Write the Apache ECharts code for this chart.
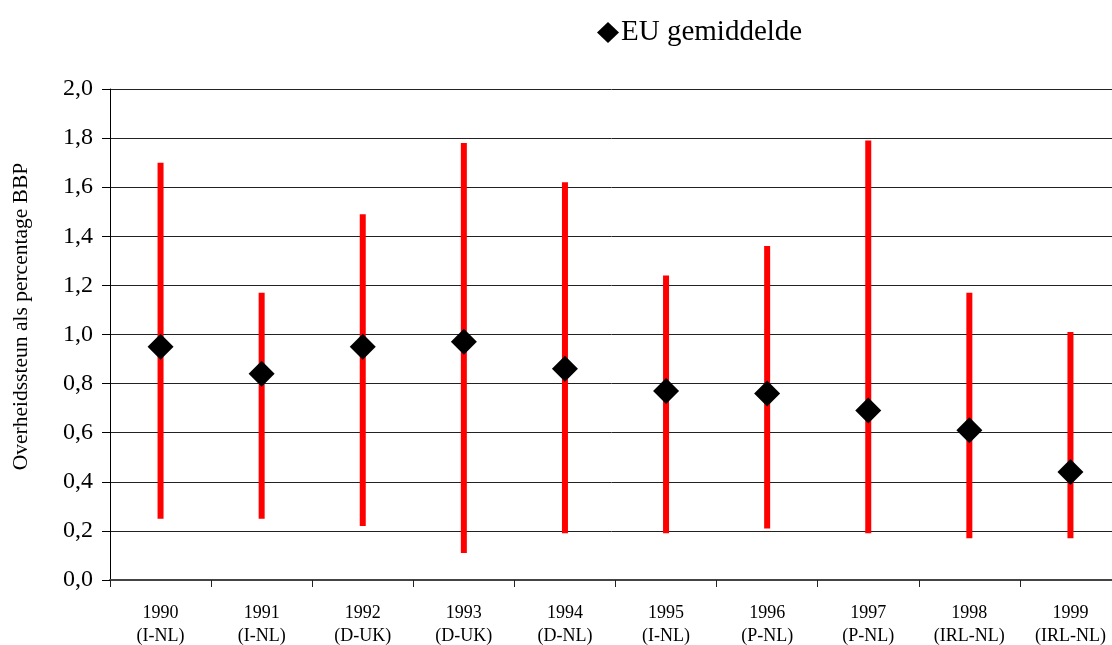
<!DOCTYPE html>
<html>
<head>
<meta charset="utf-8">
<script src="https://cdn.jsdelivr.net/npm/echarts@6/dist/echarts.min.js"></script>
<style>
  html, body { margin: 0; padding: 0; background: #fff; }
  #chart { width: 1112px; height: 645px; }
</style>
</head>
<body>
<div id="chart"></div>
<script>
  // jaren en landenparen (laagste - hoogste)
  var years = ['1990', '1991', '1992', '1993', '1994', '1995', '1996', '1997', '1998', '1999'];
  var pairs = ['(I-NL)', '(I-NL)', '(D-UK)', '(D-UK)', '(D-NL)', '(I-NL)', '(P-NL)', '(P-NL)', '(IRL-NL)', '(IRL-NL)'];
  var lowValues = [0.25, 0.25, 0.22, 0.11, 0.19, 0.19, 0.21, 0.19, 0.17, 0.17];
  var highValues = [1.70, 1.17, 1.49, 1.78, 1.62, 1.24, 1.36, 1.79, 1.17, 1.01];
  var euAverage = [0.95, 0.84, 0.95, 0.97, 0.86, 0.77, 0.76, 0.69, 0.61, 0.44];

  var categories = years.map(function (y, i) { return y + '\n' + pairs[i]; });
  var rangeData = years.map(function (y, i) { return [i, lowValues[i], highValues[i]]; });

  var font = '"Liberation Serif", "Times New Roman", serif';
  var chart = echarts.init(document.getElementById('chart'));

  var option = {
    backgroundColor: '#fff',
    animation: false,
    textStyle: { fontFamily: font, color: '#000' },
    legend: {
      left: 592,
      top: 13,
      itemWidth: 22,
      itemHeight: 21,
      itemGap: 4,
      data: [{ name: 'EU gemiddelde', icon: 'diamond' }],
      textStyle: { fontFamily: font, fontSize: 29, color: '#000', padding: [5, 0, 0, -3] }
    },
    grid: {
      left: 110,
      top: 89,
      right: -9,
      bottom: 65,
      containLabel: false,
      outerBoundsMode: 'none'
    },
    xAxis: {
      type: 'category',
      data: categories,
      boundaryGap: true,
      axisLine: { lineStyle: { color: '#444', width: 2 } },
      axisTick: { show: true, length: 7, lineStyle: { color: '#222' } },
      axisLabel: {
        interval: 0,
        margin: 22,
        fontFamily: font,
        fontSize: 18,
        lineHeight: 23,
        color: '#000'
      },
      splitLine: { show: false }
    },
    yAxis: {
      type: 'value',
      min: 0,
      max: 2,
      interval: 0.2,
      name: 'Overheidssteun als percentage BBP',
      nameLocation: 'middle',
      nameGap: 78,
      nameRotate: 90,
      nameTextStyle: { fontFamily: font, fontSize: 21.5, color: '#000', padding: [0, 0, 0, 36] },
      axisLine: { show: true, lineStyle: { color: '#000', width: 1 } },
      axisTick: { show: true, inside: false, length: 8, lineStyle: { color: '#000' } },
      axisLabel: {
        margin: 17,
        fontFamily: font,
        fontSize: 24,
        color: '#000',
        formatter: function (v) { return v.toFixed(1).replace('.', ','); }
      },
      splitLine: { show: true, lineStyle: { color: '#222', width: 1 } }
    },
    series: [
      {
        name: 'bereik',
        type: 'custom',
        data: rangeData,
        encode: { x: 0, y: [1, 2] },
        z: 2,
        renderItem: function (params, api) {
          var lo = api.coord([api.value(0), api.value(1)]);
          var hi = api.coord([api.value(0), api.value(2)]);
          return {
            type: 'line',
            shape: { x1: lo[0], y1: lo[1], x2: hi[0], y2: hi[1] },
            style: { stroke: '#ff0000', lineWidth: 6, lineCap: 'butt' }
          };
        }
      },
      {
        name: 'EU gemiddelde',
        type: 'scatter',
        data: euAverage,
        symbol: 'diamond',
        symbolSize: 26,
        z: 3,
        itemStyle: { color: '#000', opacity: 1 }
      }
    ]
  };

  chart.setOption(option);
</script>
</body>
</html>
